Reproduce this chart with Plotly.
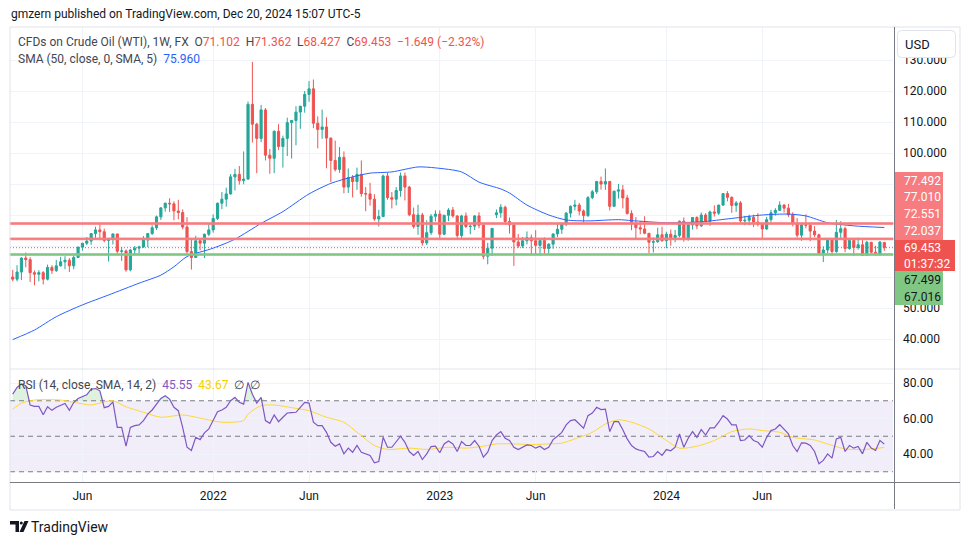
import plotly.graph_objects as go
import pandas as pd

# ---------------- data (weekly WTI CFD) ----------------
start_week = "2021-02-15"

opens = [
    60.0, 59.3, 61.6, 66.1, 65.6, 61.4, 60.9, 61.4, 59.3, 63.1,
    62.1, 63.6, 64.9, 65.4, 63.6, 66.3, 69.6, 70.9, 71.6, 74.0,
    75.2, 74.6, 71.8, 72.1, 73.9, 68.3, 68.4, 62.3, 68.7, 69.3,
    69.7, 71.9, 74.0, 75.9, 79.4, 82.3, 83.8, 83.6, 81.3, 80.8,
    76.1, 68.2, 66.3, 71.7, 70.9, 73.8, 75.2, 78.9, 83.8, 85.1,
    86.8, 92.3, 93.1, 91.1, 91.6, 115.7, 109.3, 104.7, 113.9, 99.3,
    98.3, 107.0, 102.1, 104.7, 109.8, 110.5, 113.2, 115.1, 118.9, 120.7,
    109.6, 107.6, 108.4, 104.8, 97.6, 94.7, 98.6, 89.0, 92.1, 90.8,
    93.1, 86.9, 86.8, 85.1, 78.7, 79.5, 92.6, 85.6, 85.1, 87.9,
    92.6, 89.0, 80.1, 76.3, 80.0, 71.0, 74.3, 79.6, 80.3, 73.8,
    79.9, 81.6, 79.7, 73.4, 79.7, 76.3, 76.4, 79.7, 76.7, 66.7,
    69.3, 80.1, 80.7, 82.5, 77.9, 76.8, 71.3, 70.0, 71.7, 72.7,
    71.7, 70.2, 71.8, 69.2, 70.6, 73.9, 75.4, 77.1, 80.6, 82.8,
    83.2, 81.3, 79.8, 85.6, 87.5, 90.8, 90.0, 90.8, 82.8, 87.7,
    88.1, 85.5, 80.5, 77.2, 75.9, 75.5, 74.1, 71.2, 71.4, 73.6,
    71.7, 73.8, 72.7, 73.4, 78.0, 72.3, 76.8, 79.2, 76.5, 80.0,
    78.0, 81.0, 80.6, 83.2, 86.9, 85.7, 83.1, 83.9, 78.1, 78.3,
    79.2, 77.7, 77.0, 75.5, 78.5, 80.7, 81.5, 83.2, 82.2, 80.1,
    77.2, 73.5, 76.8, 76.7, 74.8, 73.6, 67.7, 68.7, 71.9, 68.2,
    74.4, 75.6, 69.2, 71.8, 69.5, 70.4, 67.0, 71.2, 68.0, 67.2,
    71.102,
]

highs = [
    62.3, 63.8, 66.4, 67.9, 66.4, 62.1, 62.2, 61.9, 64.0, 63.8,
    65.5, 66.5, 66.7, 66.1, 66.9, 69.8, 71.0, 72.9, 74.2, 76.2,
    77.0, 75.6, 72.6, 74.0, 73.9, 69.7, 68.9, 69.0, 70.0, 70.1,
    73.2, 74.0, 76.7, 79.8, 82.4, 84.0, 85.4, 84.4, 84.9, 81.8,
    79.3, 72.3, 73.3, 72.5, 74.0, 77.2, 80.2, 84.0, 87.4, 88.8,
    93.2, 94.9, 95.8, 100.5, 116.6, 129.4, 109.7, 115.5, 114.5, 101.3,
    107.3, 109.3, 105.6, 111.4, 110.5, 115.1, 115.2, 120.0, 123.2, 123.7,
    111.8, 114.0, 111.5, 105.0, 104.0, 101.9, 100.5, 95.0, 92.9, 95.3,
    97.6, 89.0, 90.4, 86.7, 81.7, 93.0, 93.6, 87.4, 89.0, 93.7,
    93.7, 89.4, 82.4, 83.3, 80.7, 78.3, 80.3, 81.5, 81.5, 80.1,
    82.2, 82.6, 79.9, 80.1, 80.8, 76.9, 80.0, 80.9, 77.0, 71.0,
    75.8, 81.8, 83.5, 83.0, 79.2, 76.9, 73.9, 72.9, 74.7, 73.7,
    75.1, 72.5, 72.8, 70.9, 74.0, 77.3, 77.3, 81.0, 83.1, 84.9,
    83.9, 81.8, 86.1, 88.1, 91.0, 92.4, 95.0, 91.0, 87.8, 90.0,
    89.7, 86.5, 81.5, 79.3, 78.0, 79.6, 74.1, 72.8, 75.9, 76.2,
    74.6, 75.3, 75.2, 78.2, 79.2, 77.2, 79.3, 79.6, 80.8, 80.6,
    81.4, 83.1, 83.3, 87.1, 87.7, 86.0, 84.5, 84.5, 79.7, 80.1,
    80.1, 80.6, 77.5, 79.4, 81.7, 82.2, 84.4, 83.5, 83.6, 80.9,
    79.0, 77.2, 80.2, 77.1, 76.4, 74.0, 69.9, 72.4, 72.2, 78.4,
    78.0, 76.2, 72.6, 72.2, 72.7, 71.9, 71.7, 71.3, 70.1, 71.5,
    71.362,
]

lows = [
    58.6, 58.6, 59.0, 63.1, 58.4, 57.3, 58.6, 57.6, 58.9, 61.0,
    61.6, 63.4, 62.5, 61.6, 62.5, 66.1, 68.5, 70.3, 70.4, 72.6,
    72.2, 71.2, 65.0, 70.5, 67.6, 65.2, 61.7, 61.8, 67.0, 67.6,
    69.4, 69.6, 73.6, 75.2, 78.4, 81.1, 81.0, 78.3, 78.6, 75.4,
    67.4, 62.4, 66.2, 68.6, 66.1, 73.2, 74.3, 78.4, 81.9, 82.7,
    86.6, 87.9, 89.8, 89.9, 91.3, 103.4, 93.5, 103.5, 97.6, 93.3,
    93.5, 101.0, 95.3, 99.0, 98.2, 102.5, 107.8, 113.0, 116.5, 108.0,
    101.5, 104.6, 95.1, 90.6, 94.0, 93.6, 87.0, 87.1, 85.7, 88.1,
    85.9, 81.2, 83.0, 78.1, 76.3, 79.3, 84.9, 82.1, 83.1, 85.9,
    84.7, 79.6, 75.6, 73.6, 70.1, 70.3, 73.6, 77.9, 72.5, 73.5,
    78.0, 79.1, 72.6, 72.3, 75.8, 73.8, 75.1, 75.7, 65.7, 64.1,
    66.8, 79.0, 79.1, 76.9, 74.0, 63.6, 69.4, 69.3, 70.5, 67.0,
    67.0, 66.9, 67.2, 67.1, 69.1, 72.9, 73.9, 76.4, 79.2, 81.5,
    79.9, 77.6, 79.4, 85.1, 86.8, 88.2, 88.1, 81.5, 82.6, 85.3,
    82.1, 80.1, 75.1, 72.2, 73.8, 73.8, 67.7, 67.9, 71.0, 71.4,
    69.3, 70.1, 71.2, 72.8, 71.4, 71.7, 75.3, 75.4, 76.1, 77.6,
    76.5, 79.5, 80.0, 82.9, 84.4, 80.7, 81.0, 77.6, 76.7, 76.7,
    76.1, 76.3, 72.5, 75.2, 77.6, 79.8, 81.4, 80.8, 79.4, 76.3,
    72.7, 71.7, 75.7, 71.5, 72.9, 67.2, 64.8, 67.6, 66.9, 67.8,
    72.0, 68.0, 68.8, 66.8, 68.8, 66.9, 66.9, 67.6, 66.9, 66.9,
    68.427,
]

closes = [
    59.3, 61.6, 66.1, 65.6, 61.4, 60.9, 61.4, 59.3, 63.1, 62.1,
    63.6, 64.9, 65.4, 63.6, 66.3, 69.6, 70.9, 71.6, 74.0, 75.2,
    74.6, 71.8, 72.1, 73.9, 68.3, 68.4, 62.3, 68.7, 69.3, 69.7,
    71.9, 74.0, 75.9, 79.4, 82.3, 83.8, 83.6, 81.3, 80.8, 76.1,
    68.2, 66.3, 71.7, 70.9, 73.8, 75.2, 78.9, 83.8, 85.1, 86.8,
    92.3, 93.1, 91.1, 91.6, 115.7, 109.3, 104.7, 113.9, 99.3, 98.3,
    107.0, 102.1, 104.7, 109.8, 110.5, 113.2, 115.1, 118.9, 120.7, 109.6,
    107.6, 108.4, 104.8, 97.6, 94.7, 98.6, 89.0, 92.1, 90.8, 93.1,
    86.9, 86.8, 85.1, 78.7, 79.5, 92.6, 85.6, 85.1, 87.9, 92.6,
    89.0, 80.1, 76.3, 80.0, 71.0, 74.3, 79.6, 80.3, 73.8, 79.9,
    81.6, 79.7, 73.4, 79.7, 76.3, 76.4, 79.7, 76.7, 66.7, 69.3,
    75.7, 80.7, 82.5, 77.9, 76.8, 71.3, 70.0, 71.7, 72.7, 71.7,
    70.2, 71.8, 69.2, 70.6, 73.9, 75.4, 77.1, 80.6, 82.8, 83.2,
    81.3, 79.8, 85.6, 87.5, 90.8, 90.0, 90.8, 82.8, 87.7, 88.1,
    85.5, 80.5, 77.2, 75.9, 75.5, 74.1, 71.2, 71.4, 73.6, 71.7,
    73.8, 72.7, 73.4, 78.0, 72.3, 76.8, 79.2, 76.5, 80.0, 78.0,
    81.0, 80.6, 83.2, 86.9, 85.7, 83.1, 83.9, 78.1, 78.3, 79.2,
    77.7, 77.0, 75.5, 78.5, 80.7, 81.5, 83.2, 82.2, 80.1, 77.2,
    73.5, 76.8, 76.7, 74.8, 73.6, 67.7, 68.7, 71.9, 68.2, 74.4,
    75.6, 69.2, 71.8, 69.5, 70.4, 67.0, 71.2, 68.0, 67.2, 71.3,
    69.453,
]

# SMA(50) line, read at selected bars (bar index, value)
sma_idx = [0, 5, 10, 16, 22, 29, 34, 37, 40, 46, 51, 57, 62, 68, 73, 78, 82, 87,
           93, 97, 103, 107, 112, 114, 118, 123, 127, 132, 139, 142, 150, 158,
           165, 172, 178, 182, 187, 193, 200]
sma_vals = [39.8, 42.9, 47.2, 51.0, 54.2, 58.0, 60.6, 63.3, 66.6, 69.3, 72.2, 77.3,
            81.1, 86.8, 90.2, 92.3, 93.5, 93.9, 95.5, 95.2, 93.9, 90.6, 88.4, 87.1,
            83.2, 80.0, 78.4, 78.1, 78.5, 78.2, 77.5, 77.8, 78.9, 80.0, 80.3, 79.7,
            77.5, 76.5, 75.96]

# RSI(14) per bar
rsi = [
    73.7, 77.5, 79.5, 78.5, 67.6, 66.8, 66.8, 62.1, 66.6, 64.6,
    66.3, 67.6, 68.5, 64.6, 69.0, 71.3, 72.4, 73.4, 76.5, 76.9,
    75.6, 66.1, 66.8, 69.4, 55.0, 55.0, 44.4, 55.0, 56.0, 56.4,
    58.8, 62.5, 64.8, 68.1, 71.3, 72.8, 70.9, 66.3, 64.4, 55.0,
    43.8, 42.0, 49.4, 48.1, 51.9, 54.1, 58.8, 63.8, 64.8, 66.3,
    70.0, 71.9, 69.1, 68.1, 80.3, 73.7, 68.7, 71.9, 58.8, 57.3,
    62.0, 58.2, 60.7, 63.1, 63.3, 63.5, 66.3, 69.1, 68.7, 57.9,
    56.0, 56.0, 52.2, 46.6, 44.4, 45.7, 40.1, 43.3, 41.0, 44.8,
    41.0, 40.1, 39.2, 35.0, 35.8, 49.4, 43.8, 43.8, 46.6, 50.0,
    46.6, 41.4, 39.2, 41.4, 36.9, 40.1, 44.2, 44.4, 40.7, 45.7,
    47.3, 45.7, 41.4, 47.0, 44.8, 44.8, 47.6, 44.4, 38.2, 41.0,
    47.6, 50.7, 52.6, 48.9, 47.6, 43.8, 42.5, 43.8, 45.1, 44.8,
    43.3, 44.4, 42.5, 43.8, 48.1, 50.0, 52.2, 56.4, 58.8, 59.3,
    56.9, 54.5, 61.6, 63.1, 66.3, 65.0, 65.3, 52.6, 58.2, 58.2,
    53.7, 48.5, 44.8, 42.9, 42.0, 41.4, 38.2, 38.6, 41.4, 39.2,
    42.5, 41.8, 43.8, 51.3, 43.8, 48.9, 52.6, 49.4, 53.7, 50.7,
    54.7, 54.7, 57.9, 61.6, 59.7, 56.4, 56.4, 47.6, 47.9, 50.4,
    47.6, 46.6, 43.8, 49.4, 53.2, 54.1, 56.5, 54.1, 51.3, 44.8,
    41.4, 46.3, 46.1, 44.8, 41.4, 34.5, 36.4, 40.1, 37.7, 48.5,
    49.4, 41.4, 44.8, 43.3, 44.2, 40.1, 46.6, 43.3, 42.0, 47.6,
    45.55,
]

# SMA(14) of RSI, read at selected bars
rsi_sma_idx = [0, 2, 5, 11, 15, 18, 21, 23, 26, 30, 34, 39, 44, 48, 53, 54, 57, 60,
               65, 68, 72, 76, 79, 83, 86, 91, 95, 100, 104, 108, 111, 115, 119,
               123, 126, 129, 133, 136, 139, 142, 146, 150, 153, 157, 161, 165,
               169, 172, 176, 179, 184, 188, 191, 195, 200]
rsi_sma_vals = [65.3, 68.6, 70.4, 70.4, 68.7, 67.6, 69.4, 70.0, 66.6, 63.5, 60.7,
                62.0, 59.7, 57.9, 58.8, 62.5, 67.2, 67.6, 65.7, 64.4, 60.7, 57.9,
                52.3, 44.8, 42.6, 43.3, 42.6, 43.8, 43.3, 44.4, 45.7, 45.7, 45.3,
                45.7, 46.1, 48.5, 52.2, 56.9, 59.3, 57.9, 54.1, 47.6, 43.3, 44.4,
                47.6, 52.6, 54.1, 53.2, 52.2, 49.4, 47.9, 44.8, 42.9, 42.5, 43.67]

# horizontal zones drawn on the chart (bottom, top)
red_zones = [(77.010, 77.492), (72.037, 72.551)]
green_zone = (67.016, 67.499)
countdown = "01:37:32"

# axis ticks (labels 60-90 sit under the price-label boxes on the scale)
price_ticks = [40, 50, 60, 70, 80, 90, 100, 110, 120, 130]
price_tick_text = ["40.000", "50.000", "", "", "", "", "100.000", "110.000", "120.000", "130.000"]
rsi_ticks = [40, 60, 80]
rsi_levels = [70, 50, 30]
time_tick_idx = [16, 46, 68, 98, 120, 150, 172]
time_tick_text = ["Jun", "2022", "Jun", "2023", "Jun", "2024", "Jun"]

# ---------------- geometry ----------------
FW, FH = 970, 545
L, R, T, B = 10, 893, 28, 482
SPLIT = 369
BAR0_PX, BAR_STEP = 12.7, 4.358

def fx(px):
    return (px - L) / (R - L)

def fy(py):
    return (B - py) / (B - T)

t0 = pd.Timestamp(start_week)
n = len(closes)
dates = [t0 + pd.Timedelta(weeks=i) for i in range(n)]

def bar_date(i_float):
    return t0 + pd.Timedelta(days=7 * i_float)

x_left = bar_date((L - BAR0_PX) / BAR_STEP)
x_right = bar_date((R - BAR0_PX) / BAR_STEP)

main_lo = 120 - (SPLIT - 91) / 3.1
main_hi = 120 + (91 - T) / 3.1
rsi_px = 1.775
rsi_lo = 40 - (B - 454) / rsi_px
rsi_hi = 80 + (383 - SPLIT) / rsi_px

FONT = "Roboto, Arial, sans-serif"
TXT = "#131722"
GRID = "#f0f3fa"
UP, DOWN = "#26a69a", "#ef5350"

fig = go.Figure()

fig.add_trace(go.Candlestick(
    x=dates, open=opens, high=highs, low=lows, close=closes,
    increasing=dict(line=dict(color=UP, width=1), fillcolor=UP),
    decreasing=dict(line=dict(color=DOWN, width=1), fillcolor=DOWN),
    whiskerwidth=0, showlegend=False, hoverinfo="skip",
    xaxis="x", yaxis="y",
))

fig.add_trace(go.Scatter(
    x=[dates[i] for i in sma_idx], y=sma_vals, mode="lines",
    line=dict(color="#2962ff", width=1, shape="spline", smoothing=0.7),
    showlegend=False, hoverinfo="skip", xaxis="x", yaxis="y",
))

# overbought fill (RSI above 70)
fig.add_trace(go.Scatter(
    x=dates, y=[rsi_levels[0]] * n, mode="lines", line=dict(width=0),
    showlegend=False, hoverinfo="skip", xaxis="x", yaxis="y2",
))
fig.add_trace(go.Scatter(
    x=dates, y=[max(v, rsi_levels[0]) for v in rsi], mode="lines",
    line=dict(width=0), fill="tonexty", fillcolor="rgba(76,175,80,0.18)",
    showlegend=False, hoverinfo="skip", xaxis="x", yaxis="y2",
))

fig.add_trace(go.Scatter(
    x=[dates[i] for i in rsi_sma_idx], y=rsi_sma_vals, mode="lines",
    line=dict(color="#fdd835", width=1, shape="spline", smoothing=0.7),
    showlegend=False, hoverinfo="skip", xaxis="x", yaxis="y2",
))
fig.add_trace(go.Scatter(
    x=dates, y=rsi, mode="lines",
    line=dict(color="#7e57c2", width=1.2),
    showlegend=False, hoverinfo="skip", xaxis="x", yaxis="y2",
))

shapes = []
# RSI band + levels
shapes.append(dict(type="rect", xref="paper", yref="y2", x0=0, x1=1,
                   y0=rsi_levels[2], y1=rsi_levels[0],
                   fillcolor="rgba(126,87,194,0.10)", line=dict(width=0), layer="below"))
for lv in rsi_levels:
    shapes.append(dict(type="line", xref="paper", yref="y2", x0=0, x1=1, y0=lv, y1=lv,
                       line=dict(color="#787b86", width=1, dash="5px,4px"), layer="below"))
# current price dotted line
shapes.append(dict(type="line", xref="paper", yref="y", x0=0, x1=1,
                   y0=closes[-1], y1=closes[-1],
                   line=dict(color="#ef5350", width=1, dash="1px,2px"), layer="below"))
# zones
for lo, hi in red_zones:
    shapes.append(dict(type="rect", xref="paper", yref="y", x0=0, x1=1, y0=lo, y1=hi,
                       fillcolor="#f77c80", line=dict(color="#f77c80", width=1), layer="above"))
shapes.append(dict(type="rect", xref="paper", yref="y", x0=0, x1=1,
                   y0=green_zone[0], y1=green_zone[1],
                   fillcolor="#81c784", line=dict(color="#81c784", width=1), layer="above"))

# frame and separators
shapes.append(dict(type="rect", xref="paper", yref="paper",
                   x0=fx(10), x1=fx(960), y0=fy(510), y1=fy(27),
                   line=dict(color="#e0e3eb", width=1), layer="above"))
shapes.append(dict(type="line", xref="paper", yref="paper",
                   x0=fx(10), x1=fx(960), y0=fy(SPLIT), y1=fy(SPLIT),
                   line=dict(color="#e0e3eb", width=1), layer="above"))
shapes.append(dict(type="line", xref="paper", yref="paper",
                   x0=fx(10), x1=fx(960), y0=fy(482.5), y1=fy(482.5),
                   line=dict(color="#787b86", width=1), layer="above"))
shapes.append(dict(type="line", xref="paper", yref="paper",
                   x0=fx(894.5), x1=fx(894.5), y0=fy(509), y1=fy(27),
                   line=dict(color="#787b86", width=1), layer="above"))

# price-scale label boxes
def box(x0, x1, y0, y1, color):
    return dict(type="rect", xref="paper", yref="paper",
                x0=fx(x0), x1=fx(x1), y0=fy(y1), y1=fy(y0),
                fillcolor=color, line=dict(width=0), layer="above")

shapes.append(box(895, 943, 172, 240, "#f77c80"))
shapes.append(box(895, 955, 240, 271, "#ef5350"))
shapes.append(box(895, 943, 271, 305, "#81c784"))

# USD button (rounded)
def rrect(x0, y0, x1, y1, r):
    pts = [("M", x0 + r, y0), ("L", x1 - r, y0), ("Q", x1, y0, x1, y0 + r),
           ("L", x1, y1 - r), ("Q", x1, y1, x1 - r, y1), ("L", x0 + r, y1),
           ("Q", x0, y1, x0, y1 - r), ("L", x0, y0 + r), ("Q", x0, y0, x0 + r, y0)]
    out = []
    for p in pts:
        cmd = p[0]
        coords = p[1:]
        s = []
        for k in range(0, len(coords), 2):
            s.append(f"{fx(coords[k]):.5f},{fy(coords[k + 1]):.5f}")
        out.append(cmd + " " + " ".join(s))
    return " ".join(out) + " Z"

shapes.append(dict(type="path", xref="paper", yref="paper",
                   path=rrect(897.5, 30.5, 955.5, 57.5, 4),
                   fillcolor="white", line=dict(color="#e0e3eb", width=1), layer="above"))

# TradingView logo
shapes.append(dict(type="path", xref="paper", yref="paper",
                   path=("M %f,%f L %f,%f L %f,%f L %f,%f L %f,%f L %f,%f Z" % (
                       fx(10), fy(521), fx(19), fy(521), fx(19), fy(532),
                       fx(15.5), fy(532), fx(15.5), fy(524.5), fx(10), fy(524.5))),
                   fillcolor=TXT, line=dict(width=0), layer="above"))
shapes.append(dict(type="circle", xref="paper", yref="paper",
                   x0=fx(19.8), x1=fx(22.8), y0=fy(524.5), y1=fy(521.5),
                   fillcolor=TXT, line=dict(width=0), layer="above"))
shapes.append(dict(type="path", xref="paper", yref="paper",
                   path=("M %f,%f L %f,%f L %f,%f L %f,%f Z" % (
                       fx(24.5), fy(521), fx(28.5), fy(521), fx(23.5), fy(532), fx(19.5), fy(532))),
                   fillcolor=TXT, line=dict(width=0), layer="above"))

NB = "\u00a0"
RED_T = "#ef5350"
GRAY_T = "#434651"

def span(t, c):
    return f'<span style="color:{c}">{t}</span>'

annotations = []

def ann(text, px, py, size=12, color=TXT, xanchor="left", **kw):
    annotations.append(dict(text=text, x=fx(px), y=fy(py), xref="paper", yref="paper",
                            xanchor=xanchor, yanchor="middle", showarrow=False,
                            font=dict(family=FONT, size=size, color=color), **kw))

ann("gmzern published on TradingView.com, Dec 20, 2024 15:07 UTC-5", 9, 14, size=12)
legend1 = ("CFDs on Crude Oil (WTI), 1W, FX" + NB * 2 +
           "O" + span(f"{opens[-1]:.3f}", RED_T) + NB * 2 +
           "H" + span(f"{highs[-1]:.3f}", RED_T) + NB * 2 +
           "L" + span(f"{lows[-1]:.3f}", RED_T) + NB * 2 +
           "C" + span(f"{closes[-1]:.3f}", RED_T) + NB * 2 +
           span("\u22121.649 (\u22122.32%)", RED_T))
ann(legend1, 16, 42, size=12, color=GRAY_T)
ann("SMA (50, close, 0, SMA, 5)" + NB * 2 + span(f"{sma_vals[-1]:.3f}", "#2962ff"),
    16, 59, size=12, color=GRAY_T)
ann("RSI (14, close, SMA, 14, 2)" + NB * 2 + span(f"{rsi[-1]:.2f}", "#7e57c2") + NB * 2 +
    span(f"{rsi_sma_vals[-1]:.2f}", "#f5d000") + NB * 2 + "\u2205" + NB * 2 + "\u2205",
    16, 385, size=12, color=GRAY_T)

# price labels on the scale
label_specs = [
    (f"{red_zones[0][1]:.3f}", 180.5, "white"),
    (f"{red_zones[0][0]:.3f}", 197, "white"),
    (f"{red_zones[1][1]:.3f}", 214, "white"),
    (f"{red_zones[1][0]:.3f}", 231, "white"),
    (f"{closes[-1]:.3f}", 248, "white"),
    (countdown, 263.5, "white"),
    (f"{green_zone[1]:.3f}", 279.5, TXT),
    (f"{green_zone[0]:.3f}", 296.5, TXT),
]
for txt, py, col in label_specs:
    ann(txt, 902, py, size=12, color=col)

ann("USD", 903, 44, size=13)
ann("TradingView", 29, 527, size=14)

fig.update_layout(
    width=FW, height=FH, autosize=False,
    margin=dict(l=L, r=FW - R, t=T, b=FH - B, pad=0),
    paper_bgcolor="white", plot_bgcolor="white",
    showlegend=False, hovermode=False,
    font=dict(family=FONT, size=12, color=TXT),
    xaxis=dict(
        type="date", range=[x_left, x_right], domain=[0, 1], anchor="y2",
        showgrid=True, gridcolor=GRID, gridwidth=1, zeroline=False, showline=False,
        tickvals=[dates[i] for i in time_tick_idx], ticktext=time_tick_text,
        ticks="", ticklabelstandoff=5, tickfont=dict(family=FONT, size=12, color=TXT),
        rangeslider=dict(visible=False), automargin=False,
    ),
    yaxis=dict(
        domain=[(B - SPLIT) / (B - T), 1], range=[main_lo, main_hi], anchor="x",
        side="right", tickvals=price_ticks, ticktext=price_tick_text, ticks="",
        ticklabelstandoff=9,
        showgrid=True, gridcolor=GRID, zeroline=False, showline=False,
        tickfont=dict(family=FONT, size=12, color=TXT), automargin=False,
    ),
    yaxis2=dict(
        domain=[0, (B - SPLIT) / (B - T)], range=[rsi_lo, rsi_hi], anchor="x",
        side="right", tickvals=rsi_ticks, tickformat=".2f", ticks="",
        ticklabelstandoff=9,
        showgrid=True, gridcolor=GRID, zeroline=False, showline=False,
        tickfont=dict(family=FONT, size=12, color=TXT), automargin=False,
    ),
    shapes=shapes,
    annotations=annotations,
)

fig.write_html(
    "out.html",
    config={"displayModeBar": False},
    post_script="document.body.style.margin='0px';document.body.style.padding='0px';",
)
